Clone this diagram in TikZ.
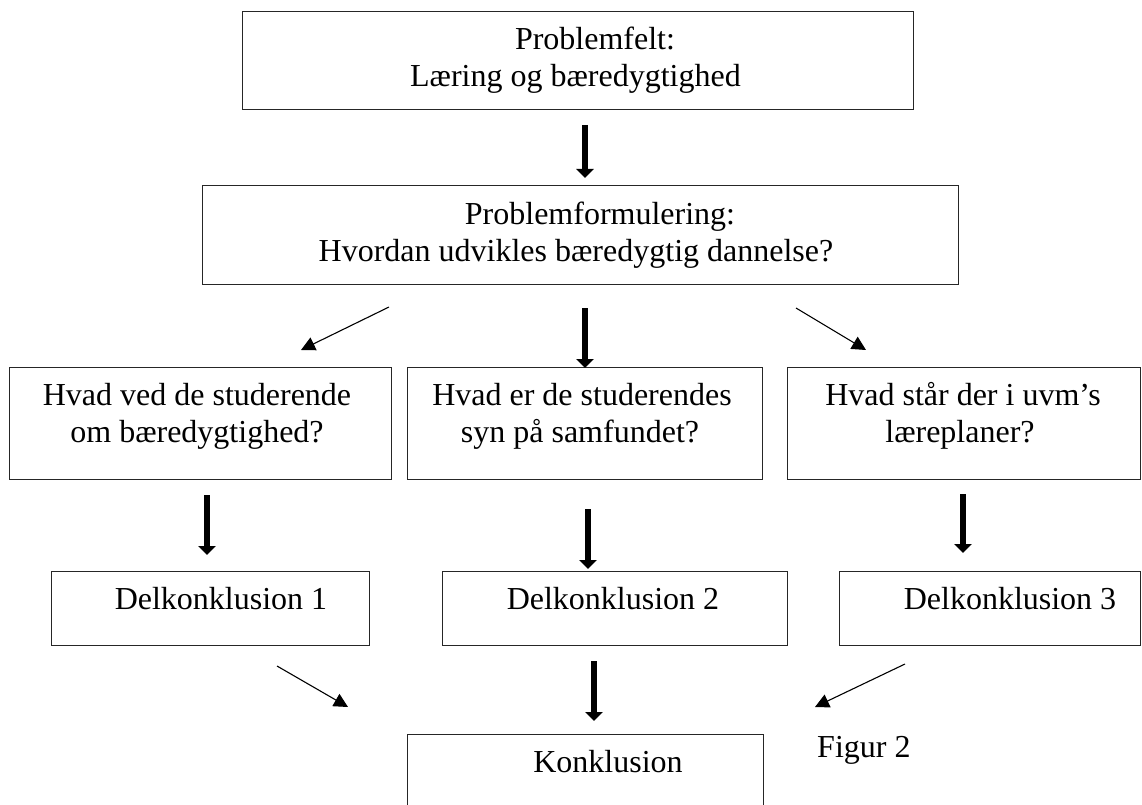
\documentclass[tikz,border=0pt]{standalone}
\usepackage{fontspec}
\setmainfont{Liberation Serif}
\usetikzlibrary{arrows.meta}
\tikzset{
  box/.style={draw=black!85, line width=1pt, rectangle, inner sep=0pt},
  txt/.style={anchor=base, inner sep=0pt, font=\fontsize{32}{37}\selectfont},
  bigarrow/.style={line width=6pt, -{Triangle[length=9pt,width=17pt]}},
  thinarrow/.style={line width=1.1pt, -{Triangle[length=14pt,width=14pt]}},
}
\begin{document}
\begin{tikzpicture}[x=1pt,y=-1pt]
\useasboundingbox (0,0) rectangle (1142,805);
\clip (0,0) rectangle (1142,805);
\fill[white] (0,0) rectangle (1142,805);
% boxes
\node[box, minimum width=671pt, minimum height=98pt] (b1) at (577.5,61) {};
\node[box, minimum width=756pt, minimum height=98pt] (b2) at (580,235) {};
\node[box, minimum width=382pt, minimum height=112pt] (qa) at (200,423) {};
\node[box, minimum width=355pt, minimum height=112pt] (qb) at (584.5,423) {};
\node[box, minimum width=353pt, minimum height=112pt] (qc) at (963.5,423) {};
\node[box, minimum width=318pt, minimum height=74pt] (d1) at (210,608) {};
\node[box, minimum width=345pt, minimum height=74pt] (d2) at (614.5,608) {};
\node[box, minimum width=301pt, minimum height=74pt] (d3) at (989.5,608) {};
\node[box, minimum width=356pt, minimum height=96pt] (k) at (585,782) {};
% texts
\node[txt] (t1a) at (595,50) {Problemfelt:};
\node[txt] (t1b) at (575.5,87) {Læring og bæredygtighed};
\node[txt] (t2a) at (600,224) {Problemformulering:};
\node[txt] (t2b) at (576,261) {Hvordan udvikles bæredygtig dannelse?};
\node[txt] (qa1) at (197,405) {Hvad ved de studerende};
\node[txt] (qa2) at (197,442) {om bæredygtighed?};
\node[txt] (qb1) at (582,405) {Hvad er de studerendes};
\node[txt] (qb2) at (580,442) {syn på samfundet?};
\node[txt] (qc1) at (963,405) {Hvad står der i uvm’s};
\node[txt] (qc2) at (960,442) {læreplaner?};
\node[txt] (d1t) at (221,609) {Delkonklusion 1};
\node[txt] (d2t) at (613,609) {Delkonklusion 2};
\node[txt] (d3t) at (1010,609) {Delkonklusion 3};
\node[txt] (kt) at (608,772) {Konklusion};
\node[txt, anchor=base west] (fig) at (817,757) {Figur 2};
% arrow end points
\coordinate (a1s) at (585,125); \coordinate (a1e) at (585,178);
\coordinate (a2s) at (585,308); \coordinate (a2e) at (585,368);
\coordinate (a3s) at (207,495); \coordinate (a3e) at (207,555);
\coordinate (a4s) at (588,509); \coordinate (a4e) at (588,569);
\coordinate (a5s) at (963,494); \coordinate (a5e) at (963,553);
\coordinate (a6s) at (594,661); \coordinate (a6e) at (594,721);
\coordinate (l1s) at (389,307); \coordinate (l1e) at (301,350);
\coordinate (r1s) at (796,308); \coordinate (r1e) at (866,350);
\coordinate (l2s) at (277,666); \coordinate (l2e) at (348,707);
\coordinate (r2s) at (905,664); \coordinate (r2e) at (815,707);
% arrows
\draw[bigarrow] (a1s) -- (a1e);
\draw[bigarrow] (a2s) -- (a2e);
\draw[bigarrow] (a3s) -- (a3e);
\draw[bigarrow] (a4s) -- (a4e);
\draw[bigarrow] (a5s) -- (a5e);
\draw[bigarrow] (a6s) -- (a6e);
\draw[thinarrow] (l1s) -- (l1e);
\draw[thinarrow] (r1s) -- (r1e);
\draw[thinarrow] (l2s) -- (l2e);
\draw[thinarrow] (r2s) -- (r2e);
\end{tikzpicture}
\end{document}
